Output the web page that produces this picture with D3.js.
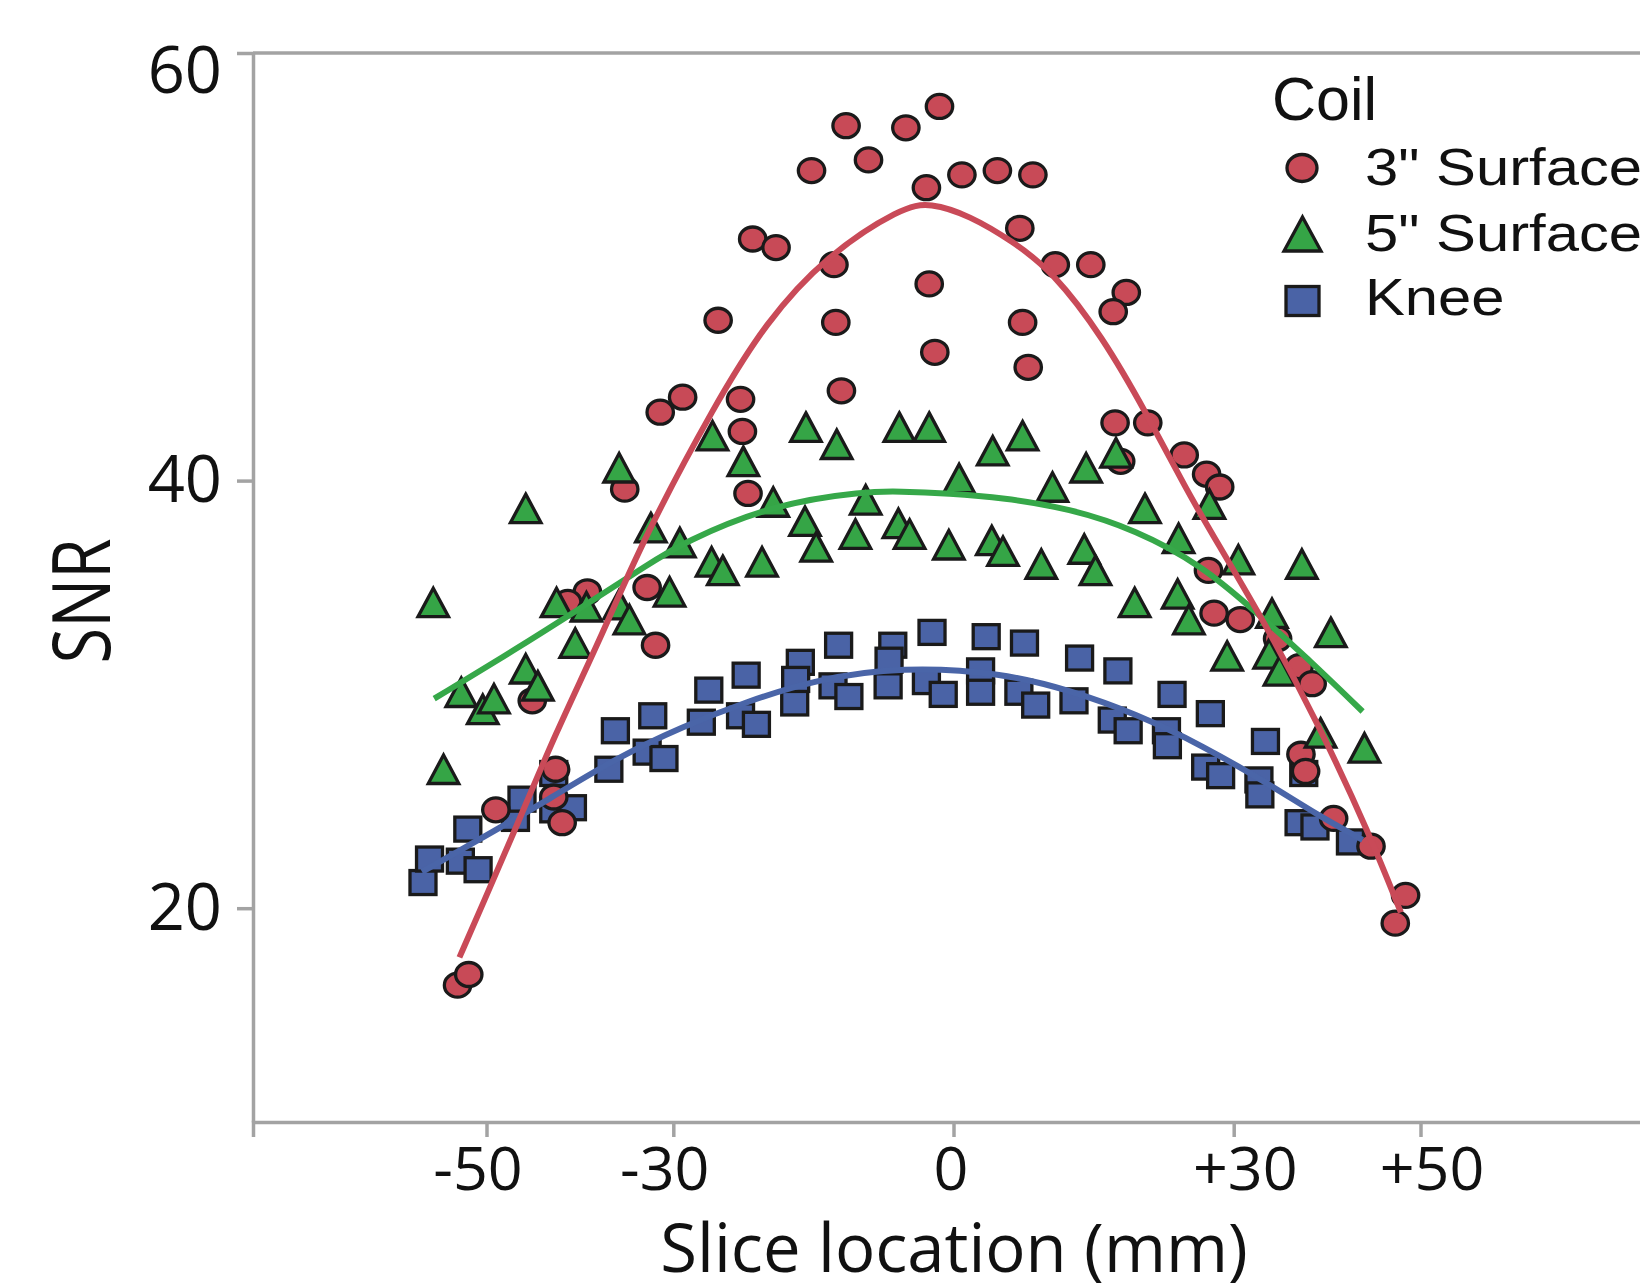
<!DOCTYPE html>
<html>
<head>
<meta charset="utf-8">
<script src="https://cdn.jsdelivr.net/npm/d3@7"></script>
<style>
  html, body { margin: 0; padding: 0; background: #fff; overflow: hidden; }
  svg { display: block; }
</style>
</head>
<body>
<div id="chart"></div>
<script>
var fullwidth = 1640;
var fullheight = 1287;

// series names (legend)
var seriesNames = ['3" Surface', '5" Surface', "Knee"];

// 3" Surface coil  [slice mm, SNR]
var surface3 = [
    [-11.5,56.6],[-5.1,56.5],[-9.1,55.0],[-15.2,54.5],[-21.5,51.3],[-19.0,50.9],[-12.8,50.1],
    [-25.2,47.5],[-12.6,47.4],[-29.0,43.9],[-31.4,43.2],[-22.8,43.8],[-12.0,44.2],[-22.6,42.3],
    [-35.2,39.6],[-22.0,39.4],[-1.5,57.5],[-2.9,53.7],[0.9,54.3],[4.7,54.5],[8.5,54.3],[7.1,51.8],
    [10.9,50.1],[14.7,50.1],[18.5,48.8],[17.1,47.9],[-2.6,49.2],[7.4,47.4],[-2.0,46.0],[8.0,45.3],
    [17.3,42.7],[20.8,42.7],[17.9,40.9],[24.7,41.2],[27.1,40.3],[28.5,39.7],[-39.2,34.8],[-41.3,34.3],
    [-32.8,35.0],[-31.9,32.3],[-45.1,29.7],[-42.6,26.5],[-42.8,25.2],[-49.0,24.6],[-41.9,24.0],
    [-53.1,16.4],[-51.9,16.9],[27.3,35.8],[27.9,33.8],[30.7,33.5],[34.7,32.6],[37.0,31.3],[38.4,30.5],
    [37.2,27.2],[37.7,26.4],[40.7,24.2],[44.7,22.9],[48.4,20.6],[47.3,19.3]
];

// 5" Surface coil
var surface5 = [
    [-45.8,38.7],[-35.8,40.6],[-25.8,42.1],[-22.5,40.9],[-15.8,42.5],[-12.5,41.7],[-5.8,42.5],
    [-19.3,39.0],[-15.9,38.1],[-9.4,39.1],[-10.5,37.5],[-5.9,38.0],[-32.4,37.8],[-29.3,37.1],
    [-2.6,42.5],[4.2,41.4],[7.4,42.1],[0.6,40.1],[10.6,39.7],[14.2,40.6],[17.4,41.3],[20.5,38.7],
    [27.4,38.9],[-0.5,37.0],[4.1,37.2],[5.3,36.7],[9.4,36.1],[14.0,36.8],[15.2,35.8],[24.1,37.3],
    [30.5,36.3],[37.3,36.1],[19.4,34.3],[24.0,34.7],[25.2,33.5],[34.1,33.8],[40.4,32.9],[29.3,31.8],
    [33.8,31.9],[34.9,31.1],[39.3,28.2],[44.0,27.5],[-55.7,34.3],[-42.5,34.3],[-39.3,34.1],
    [-35.8,34.2],[-34.7,33.5],[-30.4,34.8],[-40.5,32.4],[-45.8,31.2],[-44.5,30.4],[-52.7,30.1],
    [-50.4,29.3],[-49.2,29.8],[-54.6,26.5],[-25.9,36.2],[-24.7,35.8],[-20.5,36.2],[-14.7,36.9],
    [-4.7,37.5]
];

// Knee coil
var knee = [
    [-56.8,21.2],[-56.1,22.3],[-52.8,22.2],[-50.9,21.8],[-52.0,23.7],[-46.9,24.2],[-46.2,25.1],
    [-42.8,26.3],[-42.8,24.6],[-40.8,24.7],[-36.9,26.5],[-36.2,28.3],[-32.8,27.3],[-31.0,27.0],
    [-32.2,29.0],[-27.0,28.7],[-26.2,30.2],[-22.8,29.0],[-21.1,28.6],[-22.2,30.9],[-17.0,29.6],
    [-16.4,31.5],[-16.9,30.7],[-12.9,30.4],[-11.2,29.9],[-12.3,32.3],[-7.0,30.4],[-6.5,32.3],
    [-6.9,31.6],[-2.3,32.9],[-2.9,30.6],[-1.1,30.0],[3.5,32.7],[2.9,31.1],[2.9,30.1],[7.6,32.4],
    [7.0,30.1],[8.8,29.5],[13.5,31.7],[12.9,29.7],[17.6,31.1],[17.0,28.8],[18.7,28.3],[23.4,30.0],
    [22.8,28.3],[22.9,27.6],[27.5,29.1],[27.0,26.6],[28.6,26.2],[32.7,26.0],[32.8,25.3],[33.4,27.8],
    [37.5,26.3],[37.0,24.0],[38.7,23.8],[42.5,23.1]
];

// fitted curves
var fit3 = [
    [-52.9,17.7],[-50.4,20.2],[-46.9,23.7],[-42.6,28.2],[-37.9,32.5],[-33.3,37.2],[-25.5,43.6],
    [-20.1,47.4],[-13.7,50.5],[-5.5,52.8],[-2.5,53.0],[1.7,52.4],[6.3,51.2],[10.6,49.8],[16.0,46.7],
    [20.6,43.2],[24.9,39.6],[28.1,37.2],[33.4,33.3],[39.2,28.5],[44.5,23.5],[47.9,19.8]
];
var fit5 = [
    [-55.6,29.8],[-46.9,32.1],[-39.7,34.1],[-32.6,36.1],[-29.0,37.1],[-19.3,38.9],[-9.4,39.5],
    [-5.8,39.5],[-0.5,39.4],[5.3,39.2],[12.4,38.7],[19.5,37.7],[26.7,36.0],[32.0,34.0],[37.4,31.9],
    [43.8,29.2]
];
var fitKnee = [
    [-56.9,21.7],[-50.4,23.3],[-43.3,25.1],[-36.2,27.0],[-29.0,28.5],[-21.9,29.7],[-14.7,30.7],
    [-5.5,31.3],[5.3,31.0],[12.4,30.2],[19.5,29.1],[26.7,27.6],[33.8,25.8],[39.2,24.3],[43.8,23.2]
];

var xTicks = [-50, -30, 0, 30, 50];
var yTicks = [20, 40, 60];

var red = "#c84a57", green = "#35a546", blue = "#4a63a6";
var lineRed = "#c94a58", lineGreen = "#36a849", lineBlue = "#4a65a8";
var edge = "#1a1a1a", axisGray = "#a3a3a3";

var svg = d3.select("#chart").append("svg")
    .attr("width", fullwidth)
    .attr("height", fullheight);

var xScale = d3.scaleLinear().domain([-75, 75]).range([253, 1654]);
var yScale = d3.scaleLinear().domain([10, 60]).range([1122, 53]);

// top frame
svg.append("line")
    .attr("x1", xScale(-75)).attr("x2", xScale(75))
    .attr("y1", yScale(60)).attr("y2", yScale(60))
    .attr("stroke", axisGray).attr("stroke-width", 3.5);

// y axis
var yAxis = svg.append("g")
    .attr("transform", "translate(" + xScale(-75) + ",0)")
    .call(d3.axisLeft(yScale).tickValues(yTicks).tickSize(16).tickSizeOuter(0).tickPadding(15));

// x axis
var xAxis = svg.append("g")
    .attr("transform", "translate(0," + yScale(10) + ")")
    .call(d3.axisBottom(xScale).tickValues(xTicks).tickSize(15).tickSizeOuter(15).tickPadding(10)
        .tickFormat(function(d) { return d > 0 ? "+" + d : String(d); }));

[xAxis, yAxis].forEach(function(g) {
    g.selectAll("path.domain, .tick line")
        .attr("stroke", axisGray)
        .attr("stroke-width", 3.5);
    g.selectAll(".tick text")
        .attr("fill", "#111")
        .style("font-family", "'Open Sans', sans-serif");
});
yAxis.selectAll(".tick text")
    .style("font-size", "65px")
    .attr("dy", function(d) { return d === 60 ? "0.6em" : "0.32em"; });
xAxis.selectAll(".tick text")
    .style("font-size", "61px")
    .attr("dx", function(d) { return d < 0 ? -9 : (d > 0 ? 11 : -3); });

// axis titles
svg.append("text")
    .attr("x", 954).attr("y", 1272)
    .attr("text-anchor", "middle")
    .style("font-family", "'Open Sans', sans-serif")
    .style("font-size", "67px")
    .attr("fill", "#111")
    .text("Slice location (mm)");

svg.append("text")
    .attr("transform", "translate(110,601) rotate(-90)")
    .attr("text-anchor", "middle")
    .attr("textLength", 125)
    .attr("lengthAdjust", "spacingAndGlyphs")
    .style("font-family", "'Open Sans', sans-serif")
    .style("font-size", "80px")
    .attr("fill", "#111")
    .text("SNR");

// markers
function triPath(w, h) {
    return "M0," + (-h / 2) + "L" + (w / 2) + "," + (h / 2) + "L" + (-w / 2) + "," + (h / 2) + "Z";
}

var marks = svg.append("g");

marks.selectAll("rect.knee")
    .data(knee)
    .enter()
    .append("rect")
    .attr("class", "knee")
    .attr("x", function(d) { return xScale(d[0]) - 13; })
    .attr("y", function(d) { return yScale(d[1]) - 12; })
    .attr("width", 26)
    .attr("height", 24)
    .attr("fill", blue)
    .attr("stroke", edge)
    .attr("stroke-width", 3.3);

marks.selectAll("ellipse.s3")
    .data(surface3)
    .enter()
    .append("ellipse")
    .attr("class", "s3")
    .attr("cx", function(d) { return xScale(d[0]); })
    .attr("cy", function(d) { return yScale(d[1]); })
    .attr("rx", 13.2)
    .attr("ry", 12)
    .attr("fill", red)
    .attr("stroke", edge)
    .attr("stroke-width", 3.3);

marks.selectAll("path.s5")
    .data(surface5)
    .enter()
    .append("path")
    .attr("class", "s5")
    .attr("d", triPath(30.5, 28.5))
    .attr("transform", function(d) { return "translate(" + xScale(d[0]) + "," + yScale(d[1]) + ")"; })
    .attr("fill", green)
    .attr("stroke", edge)
    .attr("stroke-width", 3.3)
    .attr("stroke-linejoin", "miter");

// fit lines
var line = d3.line()
    .x(function(d) { return xScale(d[0]); })
    .y(function(d) { return yScale(d[1]); })
    .curve(d3.curveBasis);

[[fitKnee, lineBlue], [fit5, lineGreen], [fit3, lineRed]].forEach(function(f) {
    svg.append("path")
        .attr("d", line(f[0]))
        .attr("fill", "none")
        .attr("stroke", f[1])
        .attr("stroke-width", 6);
});

// legend
var legend = svg.append("g");

legend.append("text")
    .attr("x", 1272).attr("y", 120)
    .style("font-family", "'Liberation Sans', Arial, sans-serif")
    .style("font-size", "61px")
    .attr("fill", "#111")
    .text("Coil");

var rowY = [168, 234, 301];
var textY = [185, 251, 315];

legend.append("ellipse")
    .attr("cx", 1302).attr("cy", rowY[0])
    .attr("rx", 15).attr("ry", 13.5)
    .attr("fill", red).attr("stroke", edge).attr("stroke-width", 3.3);

legend.append("path")
    .attr("d", triPath(37, 34))
    .attr("transform", "translate(1302.5," + rowY[1] + ")")
    .attr("fill", green).attr("stroke", edge).attr("stroke-width", 3.3);

legend.append("rect")
    .attr("x", 1302.5 - 16.5).attr("y", rowY[2] - 14.5)
    .attr("width", 33).attr("height", 29)
    .attr("fill", blue).attr("stroke", edge).attr("stroke-width", 3.3);

legend.selectAll("text.entry")
    .data(seriesNames)
    .enter()
    .append("text")
    .attr("class", "entry")
    .attr("transform", function(d, i) { return "translate(1365," + textY[i] + ") scale(1.15,1)"; })
    .style("font-family", "'Liberation Sans', Arial, sans-serif")
    .style("font-size", "52px")
    .attr("fill", "#111")
    .text(function(d) { return d; });
</script>
</body>
</html>
